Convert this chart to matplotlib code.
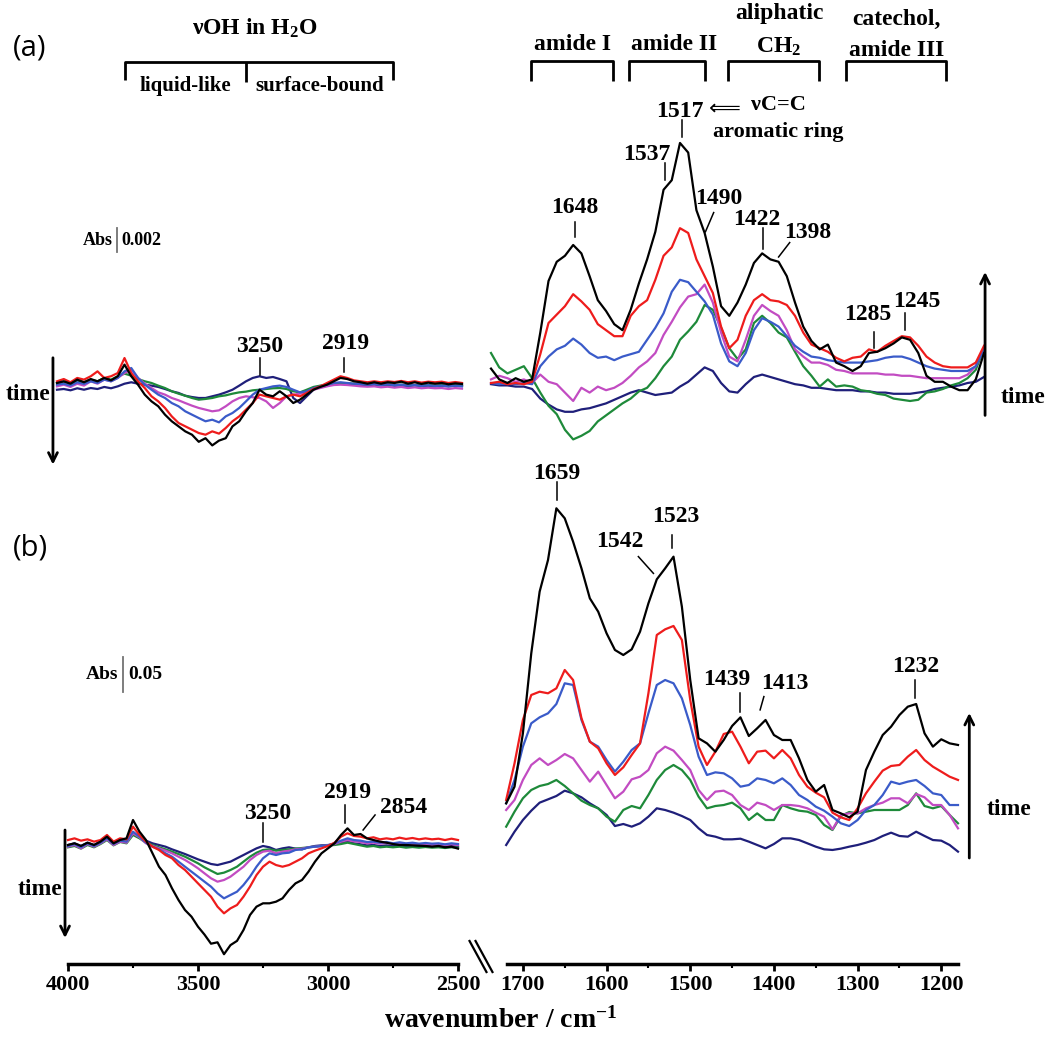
import numpy as np
import matplotlib
matplotlib.use('Agg')
import matplotlib.pyplot as plt
from matplotlib.lines import Line2D

plt.rcParams['mathtext.fontset'] = 'custom'
plt.rcParams['mathtext.rm'] = 'Liberation Serif:bold'
plt.rcParams['mathtext.it'] = 'Liberation Serif:italic:bold'
plt.rcParams['mathtext.bf'] = 'Liberation Serif:bold'

# ---------------- data (absorbance differences in mAbs) ----------------
series_names = ['navy', 'green', 'magenta', 'blue', 'red', 'black']
series_colors = {'navy': '#1f1f7a', 'green': '#1e8a3a', 'magenta': '#c24cc2',
                 'blue': '#3a5bc9', 'red': '#ee1c1c', 'black': '#000000'}

# wavenumber grids
wn_left = np.arange(4000, 2499, -25)      # 4000 ... 2500
wn_right_a = np.arange(1750, 1149, -10)   # 1750 ... 1150
wn_right_b = np.arange(1720, 1179, -10)   # 1720 ... 1180

# panel (a), high wavenumber region
a_left_black = [0.0, 0.14, -0.06, 0.28, 0.06, 0.33, 0.14, 0.42, 0.22, 0.56,
                1.53, 0.56, -0.14, -0.97, -1.53, -1.94, -2.64, -3.19, -3.61, -4.03,
                -4.31, -4.9, -4.6, -5.2, -4.8, -4.6, -3.61, -3.19, -2.36, -1.67,
                -0.56, -0.97, -1.11, -0.69, -1.11, -1.67, -1.39, -0.97, -0.56, -0.33,
                -0.14, 0.14, 0.42, 0.33, 0.14, 0.06, -0.06, 0.06, -0.06, 0.06,
                0.0, 0.11, -0.06, 0.06, -0.08, 0.03, -0.06, 0.0, -0.11, -0.03, -0.08]
a_left_red = [0.14, 0.33, 0.06, 0.42, 0.28, 0.56, 0.97, 0.42, 0.56, 0.83,
              2.08, 0.83, 0.14, -0.42, -1.11, -1.53, -2.08, -2.78, -3.33, -3.61,
              -3.89, -4.17, -4.31, -4.03, -4.22, -3.75, -3.19, -2.78, -2.22, -1.67,
              -0.97, -1.11, -1.25, -1.39, -1.11, -0.97, -1.11, -0.83, -0.5, -0.28,
              0.0, 0.28, 0.56, 0.42, 0.22, 0.14, 0.06, 0.14, 0.06, 0.14,
              0.08, 0.17, 0.06, 0.14, 0.03, 0.11, 0.06, 0.11, 0.0, 0.08, 0.0]
a_left_blue = [-0.14, -0.06, -0.22, 0.06, -0.08, 0.14, 0.0, 0.28, 0.14, 0.42,
               0.97, 1.25, 0.42, -0.14, -0.56, -0.97, -1.25, -1.67, -1.94, -2.36,
               -2.64, -2.92, -3.19, -3.06, -3.28, -2.78, -2.5, -2.08, -1.53, -0.97,
               -0.56, -0.42, -0.28, -0.22, -0.33, -0.56, -0.78, -0.69, -0.42, -0.28,
               -0.14, 0.0, 0.06, 0.0, -0.06, -0.08, -0.14, -0.08, -0.17, -0.11,
               -0.19, -0.14, -0.22, -0.17, -0.25, -0.19, -0.25, -0.22, -0.28, -0.22, -0.28]
a_left_magenta = [-0.28, -0.14, -0.33, -0.06, -0.22, 0.14, -0.06, 0.28, 0.14, 0.42,
                  0.83, 1.11, 0.42, -0.06, -0.42, -0.78, -0.97, -1.25, -1.44, -1.67,
                  -1.89, -2.08, -2.22, -2.36, -2.28, -1.94, -1.53, -1.25, -1.11, -1.19,
                  -1.25, -1.53, -2.08, -1.67, -1.11, -0.97, -0.89, -0.78, -0.56, -0.42,
                  -0.28, -0.17, -0.14, -0.17, -0.22, -0.28, -0.31, -0.28, -0.36, -0.31,
                  -0.39, -0.33, -0.42, -0.36, -0.44, -0.39, -0.44, -0.42, -0.5, -0.42, -0.47]
a_left_green = [0.0, 0.11, -0.06, 0.22, 0.06, 0.28, 0.14, 0.42, 0.28, 0.56,
                0.78, 0.61, 0.33, 0.14, 0.0, -0.22, -0.42, -0.69, -0.89, -1.06,
                -1.25, -1.39, -1.33, -1.25, -1.11, -1.03, -0.89, -0.78, -0.72, -0.61,
                -0.56, -0.5, -0.44, -0.42, -0.5, -0.69, -0.78, -0.56, -0.33, -0.22,
                -0.14, -0.06, 0.0, -0.03, -0.06, -0.08, -0.11, -0.08, -0.14, -0.11,
                -0.17, -0.14, -0.19, -0.17, -0.22, -0.17, -0.22, -0.19, -0.25, -0.19, -0.22]
a_left_navy = [-0.56, -0.5, -0.61, -0.44, -0.56, -0.42, -0.5, -0.33, -0.44, -0.28,
               -0.06, 0.06, -0.06, -0.14, -0.22, -0.33, -0.5, -0.69, -0.83, -1.06,
               -1.17, -1.25, -1.25, -1.11, -0.97, -0.78, -0.56, -0.22, 0.14, 0.42,
               0.56, 0.42, 0.5, 0.33, 0.14, -1.25, -1.67, -1.11, -0.56, -0.28,
               -0.17, -0.11, -0.06, -0.08, -0.11, -0.14, -0.17, -0.14, -0.19, -0.17,
               -0.22, -0.19, -0.25, -0.19, -0.25, -0.22, -0.28, -0.22, -0.28, -0.22, -0.22]

# panel (a), fingerprint region
a_right_black = [1.2, 0.3, 0.0, 0.4, 0.1, 0.3,
                 4.2, 8.5, 10.1, 10.6, 11.5, 10.8, 8.9, 6.9, 6.0, 4.9,
                 4.4, 6.1, 8.3, 10.3, 12.6, 16.1, 16.9, 20.0, 19.2, 14.4,
                 12.5, 9.7, 6.4, 5.6, 6.7, 8.2, 10.0, 10.8, 10.3, 10.1,
                 8.9, 6.7, 4.7, 3.5, 2.8, 3.2, 1.7, 1.4, 1.0, 1.4,
                 2.5, 2.6, 2.9, 3.3, 3.8, 3.6, 2.5, 0.6, 0.1, 0.1,
                 -0.3, -0.6, -0.6, 0.3, 2.5]
a_right_red = [0.0, 0.1, -0.1, 0.0, -0.1, 0.1,
               2.4, 5.0, 5.7, 6.4, 7.4, 6.8, 6.1, 4.9, 4.4, 3.9,
               3.9, 5.6, 6.4, 6.9, 8.6, 10.6, 11.3, 12.9, 12.5, 10.3,
               8.9, 7.5, 4.7, 2.9, 3.6, 5.6, 6.9, 7.4, 6.9, 6.8,
               6.5, 5.6, 4.2, 3.2, 2.9, 2.6, 2.1, 1.8, 2.1, 2.2,
               2.8, 2.6, 3.1, 3.5, 3.9, 3.8, 3.1, 2.2, 1.7, 1.4,
               1.3, 1.3, 1.3, 1.7, 3.1]
a_right_blue = [0.0, -0.1, 0.0, -0.1, 0.0, -0.1,
                1.4, 2.2, 2.8, 3.1, 3.7, 3.2, 2.5, 2.1, 2.2, 1.9,
                2.2, 2.4, 2.6, 3.6, 4.6, 5.8, 7.6, 8.6, 8.4, 7.6,
                6.8, 5.7, 3.3, 1.8, 1.4, 2.5, 4.4, 5.4, 5.1, 4.7,
                3.9, 3.1, 2.6, 2.2, 2.1, 1.9, 1.8, 1.7, 1.7, 1.7,
                1.8, 1.9, 2.1, 2.2, 2.2, 2.0, 1.7, 1.4, 1.2, 1.1,
                1.0, 1.0, 1.0, 1.4, 2.8]
a_right_magenta = [0.3, 0.6, 0.4, 0.1, 0.3, 0.0,
                   0.7, 0.1, -0.1, -0.8, -1.5, -0.4, -0.8, -0.3, -0.6, -0.4,
                   0.0, 0.6, 1.3, 1.8, 2.5, 4.0, 5.1, 6.3, 7.2, 7.4,
                   8.2, 6.7, 4.2, 2.2, 1.8, 3.6, 5.6, 6.5, 6.0, 5.6,
                   4.4, 2.8, 2.2, 1.7, 1.7, 1.5, 1.1, 1.0, 0.8, 0.8,
                   0.8, 0.8, 0.7, 0.7, 0.6, 0.6, 0.5, 0.4, 0.4, 0.4,
                   0.4, 0.4, 0.7, 1.4, 2.9]
a_right_green = [2.5, 1.3, 0.8, 1.1, 1.4, 0.4,
                 -0.8, -1.9, -2.6, -3.9, -4.7, -4.4, -4.0, -3.2, -2.7, -2.2,
                 -1.7, -1.3, -0.7, -0.4, 0.4, 1.4, 2.2, 3.6, 4.3, 5.1,
                 6.5, 6.1, 4.6, 2.9, 2.0, 2.8, 5.0, 5.6, 5.0, 4.2,
                 3.8, 2.6, 1.4, 0.6, -0.3, 0.3, -0.3, -0.2, -0.3, -0.6,
                 -0.7, -0.9, -1.0, -1.3, -1.4, -1.5, -1.4, -0.8, -0.7, -0.5,
                 -0.2, 0.0, 0.4, 1.1, 2.9]
a_right_navy = [-0.1, -0.2, -0.2, -0.3, -0.3, -0.5,
                -1.3, -1.8, -2.2, -2.4, -2.4, -2.2, -2.1, -1.9, -1.7, -1.4,
                -1.1, -0.8, -0.6, -0.8, -1.0, -0.9, -0.8, -0.3, 0.1, 0.7,
                1.3, 1.0, 0.0, -0.7, -0.8, -0.1, 0.5, 0.7, 0.5, 0.3,
                0.1, -0.1, -0.2, -0.4, -0.4, -0.5, -0.6, -0.6, -0.6, -0.7,
                -0.7, -0.8, -0.8, -0.9, -0.9, -0.9, -0.8, -0.7, -0.5, -0.4,
                -0.3, -0.2, 0.0, 0.1, 0.5]

# panel (b), high wavenumber region
b_left_black = [0, 2.4, -1.4, 3.3, 0, 4.8, 11.9, 2.4, 7.1, 9.5,
                35.7, 19.0, 7.1, -11.9, -31.0, -42.9, -61.9, -78.6, -92.9, -102.4,
                -116.7, -128.0, -141.0, -139.0, -156.0, -143.0, -137.0, -121.4, -100.0, -88.1,
                -83.3, -83.3, -81.0, -76.2, -64.3, -54.8, -50.0, -38.1, -23.8, -11.9,
                -4.8, 2.4, 14.3, 23.8, 14.3, 15.7, 9.5, 7.1, 4.8, 3.3,
                1.4, 0, 0, -0.5, -1.0, -1.4, -2.4, -1.4, -3.3, -2.4, -5.2]
b_left_red = [7.1, 9.5, 6.2, 8.1, 4.8, 7.1, 14.3, 4.8, 9.5, 8.1,
              26.2, 14.3, 4.8, -2.4, -7.1, -14.3, -19.0, -28.6, -35.7, -45.2,
              -54.8, -64.3, -73.8, -88.1, -97.6, -90.5, -85.7, -73.8, -59.5, -42.9,
              -31.0, -23.8, -28.6, -31.0, -28.6, -23.8, -19.0, -11.9, -8.1, -4.8,
              -1.4, 3.3, 11.9, 16.7, 12.9, 11.9, 9.5, 11.0, 8.1, 9.5,
              8.1, 10.5, 8.6, 10.0, 8.1, 9.5, 8.1, 9.0, 7.1, 9.0, 7.1]
b_left_blue = [-1.4, 1.4, -3.3, 2.4, -1.4, 3.3, 9.5, 1.4, 6.2, 4.8,
               19.0, 11.9, 3.3, -2.4, -6.2, -11.9, -16.7, -23.8, -31.0, -38.1,
               -45.2, -52.4, -59.5, -69.0, -76.2, -71.4, -66.7, -57.1, -45.2, -31.0,
               -19.0, -11.9, -14.3, -11.9, -11.0, -7.1, -6.2, -3.3, -2.4, -1.4,
               -0.5, 2.4, 6.2, 9.5, 7.1, 6.2, 4.3, 4.8, 3.3, 4.3,
               2.4, 3.8, 2.4, 3.3, 1.9, 2.9, 1.9, 2.4, 1.0, 2.4, 1.4]
b_left_magenta = [-2.4, 0, -4.8, 1.4, -2.4, 2.4, 8.1, 0, 4.8, 3.3,
                  16.7, 11.0, 2.4, -1.4, -4.8, -8.1, -11.9, -16.7, -21.4, -27.1,
                  -33.3, -40.5, -47.6, -52.4, -50.0, -45.2, -38.1, -31.0, -21.4, -14.3,
                  -9.5, -8.1, -11.9, -9.5, -8.1, -6.2, -5.2, -3.3, -2.4, -1.4,
                  -0.5, 1.4, 4.8, 7.1, 5.2, 4.3, 2.4, 3.3, 1.9, 2.9,
                  1.4, 2.4, 1.0, 1.9, 0.5, 1.4, 0.5, 1.0, 0, 1.0, 0]
b_left_green = [-3.3, -1.4, -5.2, 0, -3.3, 1.4, 7.1, -0.5, 4.3, 2.4,
                14.3, 9.5, 3.3, 0, -3.3, -6.2, -9.5, -12.9, -16.7, -21.4,
                -26.2, -31.9, -36.7, -41.4, -39.5, -35.7, -31.0, -23.8, -16.7, -11.0,
                -7.1, -6.2, -8.1, -7.1, -6.2, -5.2, -4.3, -3.3, -2.4, -1.4,
                -0.5, 0, 1.4, 3.3, 1.4, -0.5, -2.4, -1.4, -3.3, -2.4,
                -3.3, -2.4, -3.8, -2.9, -3.8, -2.9, -3.8, -3.3, -4.3, -3.3, -3.8]
b_left_navy = [0, 2.4, -1.4, 3.3, 0, 4.8, 8.1, 2.4, 6.2, 4.8,
               15.7, 11.9, 6.2, 2.4, 0, -2.4, -6.2, -9.5, -12.9, -16.7,
               -20.5, -23.8, -27.1, -28.6, -26.2, -23.8, -19.0, -14.3, -9.5, -4.8,
               -1.4, -3.3, -7.1, -4.8, -3.3, -5.2, -6.2, -3.3, -1.4, -0.5,
               0, 1.4, 3.3, 4.8, 2.4, 1.0, -0.5, 0, -1.4, -0.5,
               -1.4, -0.5, -1.9, -1.0, -1.9, -1.0, -1.9, -1.4, -2.4, -1.4, -2.4]

# panel (b), fingerprint region
b_right_black = [59.5, 83.3, 159.5, 273.8, 361.9, 407.1, 481.0, 466.7, 433.3, 395.2,
                 352.4, 333.3, 302.4, 278.6, 271.4, 279.5, 304.8, 345.2, 379.5, 395.2,
                 411.9, 340.5, 235.7, 152.4, 145.2, 133.3, 150.0, 170.0, 182.4, 155.7,
                 166.7, 178.6, 157.1, 150.0, 150.0, 123.8, 92.9, 76.2, 85.7, 50.0,
                 45.2, 39.5, 47.6, 107.1, 133.3, 157.1, 169.0, 185.7, 197.6, 201.4,
                 159.5, 140.5, 151.0, 145.2, 142.9]
b_right_red = [64.3, 116.7, 178.6, 214.3, 219.0, 216.7, 223.8, 250.0, 235.7, 181.0,
               147.6, 138.1, 116.7, 100.0, 111.0, 128.6, 145.2, 216.7, 300.0, 308.1,
               312.9, 292.9, 207.1, 140.5, 114.3, 133.3, 158.6, 161.9, 140.5, 116.7,
               133.3, 134.8, 123.8, 135.7, 123.8, 100.0, 83.3, 74.8, 68.1, 46.2,
               39.5, 35.7, 52.4, 73.8, 90.5, 106.2, 112.9, 114.3, 126.2, 135.7,
               121.4, 111.9, 104.8, 97.6, 92.9]
b_right_blue = [59.5, 92.9, 140.5, 173.8, 182.4, 188.1, 201.4, 231.0, 228.6, 178.6,
                147.6, 140.5, 121.4, 104.8, 119.0, 135.7, 145.2, 188.1, 228.6, 235.7,
                231.0, 209.5, 171.4, 126.2, 100.0, 103.8, 102.4, 95.2, 83.3, 85.7,
                95.2, 92.9, 88.1, 95.2, 85.7, 71.4, 64.3, 54.8, 49.0, 40.5,
                31.0, 27.1, 35.7, 50.0, 57.1, 71.4, 90.5, 87.1, 90.5, 92.9,
                84.3, 73.8, 71.4, 57.1, 57.1]
b_right_magenta = [50.0, 64.3, 92.9, 114.3, 123.8, 114.3, 121.4, 130.0, 123.8, 107.1,
                   90.5, 104.8, 85.7, 66.7, 76.2, 93.8, 97.6, 107.1, 131.0, 140.5,
                   134.8, 121.4, 107.1, 78.6, 64.3, 76.2, 77.6, 71.4, 57.1, 50.0,
                   60.5, 57.1, 50.0, 57.1, 57.1, 55.7, 52.4, 46.2, 40.5, 22.4,
                   42.9, 45.2, 45.2, 52.4, 57.1, 60.5, 66.7, 66.7, 59.5, 72.9,
                   68.1, 57.1, 57.1, 42.9, 23.8]
b_right_green = [26.2, 47.6, 66.7, 78.6, 84.3, 87.1, 92.9, 84.3, 73.8, 63.3,
                 57.1, 52.4, 40.5, 33.3, 50.0, 55.7, 52.4, 71.4, 92.9, 107.1,
                 114.3, 107.1, 92.9, 69.0, 52.4, 55.7, 57.1, 60.5, 52.4, 35.7,
                 45.2, 35.7, 35.7, 57.1, 52.4, 49.0, 47.6, 42.9, 28.6, 21.4,
                 41.4, 47.1, 45.2, 47.6, 50.0, 50.0, 50.0, 50.0, 57.1, 73.8,
                 55.7, 52.4, 55.7, 42.9, 31.0]
b_right_navy = [0, 19.0, 35.7, 49.0, 60.5, 65.2, 70.0, 77.6, 73.8, 68.1,
                59.5, 52.4, 42.9, 27.1, 30.0, 26.2, 31.0, 40.5, 52.4, 50.0,
                46.2, 41.4, 35.7, 23.8, 14.3, 11.9, 8.1, 8.1, 9.0, 4.8,
                0, -4.8, 1.4, 9.5, 9.5, 7.1, 2.4, -2.4, -6.2, -7.1,
                -5.2, -2.4, 0, 3.3, 7.1, 12.9, 17.6, 12.9, 11.9, 19.0,
                12.9, 7.1, 6.2, 0, -9.5]

panel_a_left = dict(navy=a_left_navy, green=a_left_green, magenta=a_left_magenta,
                    blue=a_left_blue, red=a_left_red, black=a_left_black)
panel_a_right = dict(navy=a_right_navy, green=a_right_green, magenta=a_right_magenta,
                     blue=a_right_blue, red=a_right_red, black=a_right_black)
panel_b_left = dict(navy=b_left_navy, green=b_left_green, magenta=b_left_magenta,
                    blue=b_left_blue, red=b_left_red, black=b_left_black)
panel_b_right = dict(navy=b_right_navy, green=b_right_green, magenta=b_right_magenta,
                     blue=b_right_blue, red=b_right_red, black=b_right_black)

# ---------------- figure ----------------
W, H = 1050, 1037
fig = plt.figure(figsize=(W / 100, H / 100), dpi=100)
SERIF = 'Liberation Serif'
NUM = 17      # peak-label size
HEAD = 17     # band-group header size


def rect(x0, y0, x1, y1):
    return [x0 / W, 1 - y1 / H, (x1 - x0) / W, (y1 - y0) / H]


def fig_line(xs, ys, lw=2.0):
    fig.add_artist(Line2D([x / W for x in xs], [1 - y / H for y in ys],
                          transform=fig.transFigure, color='k', lw=lw,
                          solid_capstyle='butt', solid_joinstyle='round'))


def fig_text(x, y, s, size=14, ha='center', family=SERIF, weight='bold'):
    fig.text(x / W, 1 - y / H, s, fontsize=size, fontweight=weight, family=family,
             ha=ha, va='center')


axAL = fig.add_axes(rect(57, 100, 462, 470))
axAR = fig.add_axes(rect(491, 100, 984, 470))
axBL = fig.add_axes(rect(68, 470, 458, 964))
axBR = fig.add_axes(rect(507, 470, 958, 964))

axAL.set_xlim(4000, 2500)
axAR.set_xlim(1750, 1150)
axBL.set_xlim(4000, 2500)
axBR.set_xlim(1719, 1180)
for ax in (axAL, axAR):
    ax.set_ylim(-7.25, 23.58)
for ax in (axBL, axBR):
    ax.set_ylim(-170, 535.7)

for ax in (axAL, axAR, axBL, axBR):
    ax.patch.set_alpha(0)
    for s in ('top', 'right', 'left'):
        ax.spines[s].set_visible(False)
    ax.set_yticks([])
for ax in (axAL, axAR):
    ax.spines['bottom'].set_visible(False)
    ax.set_xticks([])

for ax, wn, d in ((axAL, wn_left, panel_a_left), (axAR, wn_right_a, panel_a_right),
                  (axBL, wn_left, panel_b_left), (axBR, wn_right_b, panel_b_right)):
    for name in series_names:
        ax.plot(wn, d[name], color=series_colors[name], lw=1.6, clip_on=False,
                solid_joinstyle='round')

# bottom axes
axBL.set_xticks([4000, 3500, 3000, 2500])
axBL.set_xticks([3750, 3250, 2750], minor=True)
axBR.set_xticks([1700, 1600, 1500, 1400, 1300, 1200])
axBR.set_xticks([1650, 1550, 1450, 1350, 1250], minor=True)
for ax in (axBL, axBR):
    ax.spines['bottom'].set_linewidth(2.5)
    ax.tick_params(axis='x', which='major', direction='out', length=5, width=2, pad=3)
    ax.tick_params(axis='x', which='minor', direction='out', length=3, width=1.5)
    ax.set_xticklabels([str(int(v)) for v in ax.get_xticks()], fontsize=16,
                       fontweight='bold', family=SERIF)

fig_text(501, 1020, 'wavenumber / cm$^{\\mathregular{-1}}$', size=20)

# axis break marks
fig_line([469, 487], [940, 973], lw=1.6)
fig_line([475, 493], [940, 973], lw=1.6)


def label(ax, x, y, s, size=NUM, ha='center'):
    ax.text(x, y, s, fontsize=size, fontweight='bold', family=SERIF, ha=ha,
            va='center', clip_on=False)


def tick(ax, x0, y0, x1, y1, lw=1.1):
    ax.plot([x0, x1], [y0, y1], color='k', lw=lw, clip_on=False)


def time_arrow(ax, x, y_from, y_to):
    ax.annotate('', xy=(x, y_to), xytext=(x, y_from),
                arrowprops=dict(arrowstyle='->', lw=2.0, color='k',
                                mutation_scale=16, shrinkA=0, shrinkB=0),
                annotation_clip=False)


# ---- panel (a) left annotations
label(axAL, 3248, 3.0, '3250')
tick(axAL, 3248, 2.1, 3248, 0.67)
label(axAL, 2933, 3.3, '2919')
tick(axAL, 2937, 2.1, 2937, 0.9)
axAL.plot([3778, 3778], [10.9, 12.9], color='0.45', lw=1.3, clip_on=False)
label(axAL, 3793, 11.9, 'Abs', size=13, ha='right')
label(axAL, 3761, 11.9, '0.002', size=13, ha='left')
time_arrow(axAL, 4015, 2.1, -6.8)
label(axAL, 4026, -1.0, 'time', ha='right')

# ---- panel (a) right annotations
label(axAR, 1647.5, 14.6, '1648')
tick(axAR, 1647.5, 13.4, 1647.5, 12.2)
label(axAR, 1560, 19.0, '1537')
tick(axAR, 1538, 18.3, 1538, 16.9)
label(axAR, 1520.5, 22.6, '1517')
tick(axAR, 1518, 21.9, 1518, 20.5)
axAR.text(1466, 22.9, '\u27f8', fontsize=16, family=['DejaVu Sans'], ha='center',
          va='center', clip_on=False)
label(axAR, 1400, 23.2, '\u03bdC=C', size=16)
label(axAR, 1401, 20.9, 'aromatic ring', size=16)
label(axAR, 1473, 15.4, '1490')
tick(axAR, 1479, 14.2, 1489, 12.6)
label(axAR, 1427, 13.6, '1422')
tick(axAR, 1419.5, 12.9, 1419.5, 11.2)
label(axAR, 1364.6, 12.5, '1398')
tick(axAR, 1386.5, 11.7, 1400, 10.5)
label(axAR, 1291, 5.7, '1285')
tick(axAR, 1284, 4.25, 1284, 2.9)
label(axAR, 1232, 6.75, '1245')
tick(axAR, 1246, 5.8, 1246, 4.4)
time_arrow(axAR, 1148.7, -2.7, 9.25)
label(axAR, 1130, -1.25, 'time', ha='left')

# ---- panel (b) left annotations
label(axBL, 3234, 45.7, '3250')
tick(axBL, 3250, 31.4, 3250, 4.3)
label(axBL, 2923, 74.3, '2919')
tick(axBL, 2935, 57.0, 2935, 31.4)
label(axBL, 2711, 52.9, '2854')
tick(axBL, 2819, 42.9, 2865, 21.4)
axBL.plot([3788, 3788], [218.6, 268.6], color='0.45', lw=1.3, clip_on=False)
label(axBL, 3806, 243.6, 'Abs', size=14, ha='right')
label(axBL, 3767, 243.6, '0.05', size=14, ha='left')
time_arrow(axBL, 4011.5, 21.4, -132.9)
label(axBL, 4023, -64.0, 'time', ha='right')

# ---- panel (b) right annotations
label(axBR, 1659, 530, '1659')
tick(axBR, 1659, 519, 1659, 493)
label(axBR, 1584, 433, '1542')
tick(axBR, 1562, 412, 1544, 388)
label(axBR, 1517, 469, '1523')
tick(axBR, 1522, 443, 1522, 424)
label(axBR, 1456, 236, '1439')
tick(axBR, 1440, 217, 1440, 190)
label(axBR, 1387, 231, '1413')
tick(axBR, 1412, 212, 1416.5, 193)
label(axBR, 1230, 255, '1232')
tick(axBR, 1231, 236, 1231, 210)
time_arrow(axBR, 1166.5, -18.6, 188.6)
label(axBR, 1146, 50, 'time', ha='left')

# ---------------- header labels and brackets ----------------
fig_text(30, 48, '(a)', size=21, family='Open Sans', weight='normal')
fig_text(30, 548, '(b)', size=21, family='Open Sans', weight='normal')

fig_text(255, 28, '\u03bdOH in H$_{\\mathregular{2}}$O', size=HEAD)
fig_line([125, 125, 393, 393], [80, 62, 62, 80])
fig_line([246, 246], [62, 82])
fig_text(185, 86, 'liquid-like', size=15)
fig_text(320, 86, 'surface-bound', size=15)

for (x0, x1) in ((531, 613), (629, 705), (728, 819), (846, 946)):
    fig_line([x0, x0, x1, x1], [81, 61, 61, 81])
fig_text(572, 44, 'amide I', size=HEAD)
fig_text(674, 44, 'amide II', size=HEAD)
fig_text(779, 14, 'aliphatic', size=HEAD)
fig_text(779, 47, 'CH$_{\\mathregular{2}}$', size=HEAD)
fig_text(896, 19, 'catechol,', size=HEAD)
fig_text(897, 50, 'amide III', size=HEAD)

fig.savefig('out.png', dpi=100)
